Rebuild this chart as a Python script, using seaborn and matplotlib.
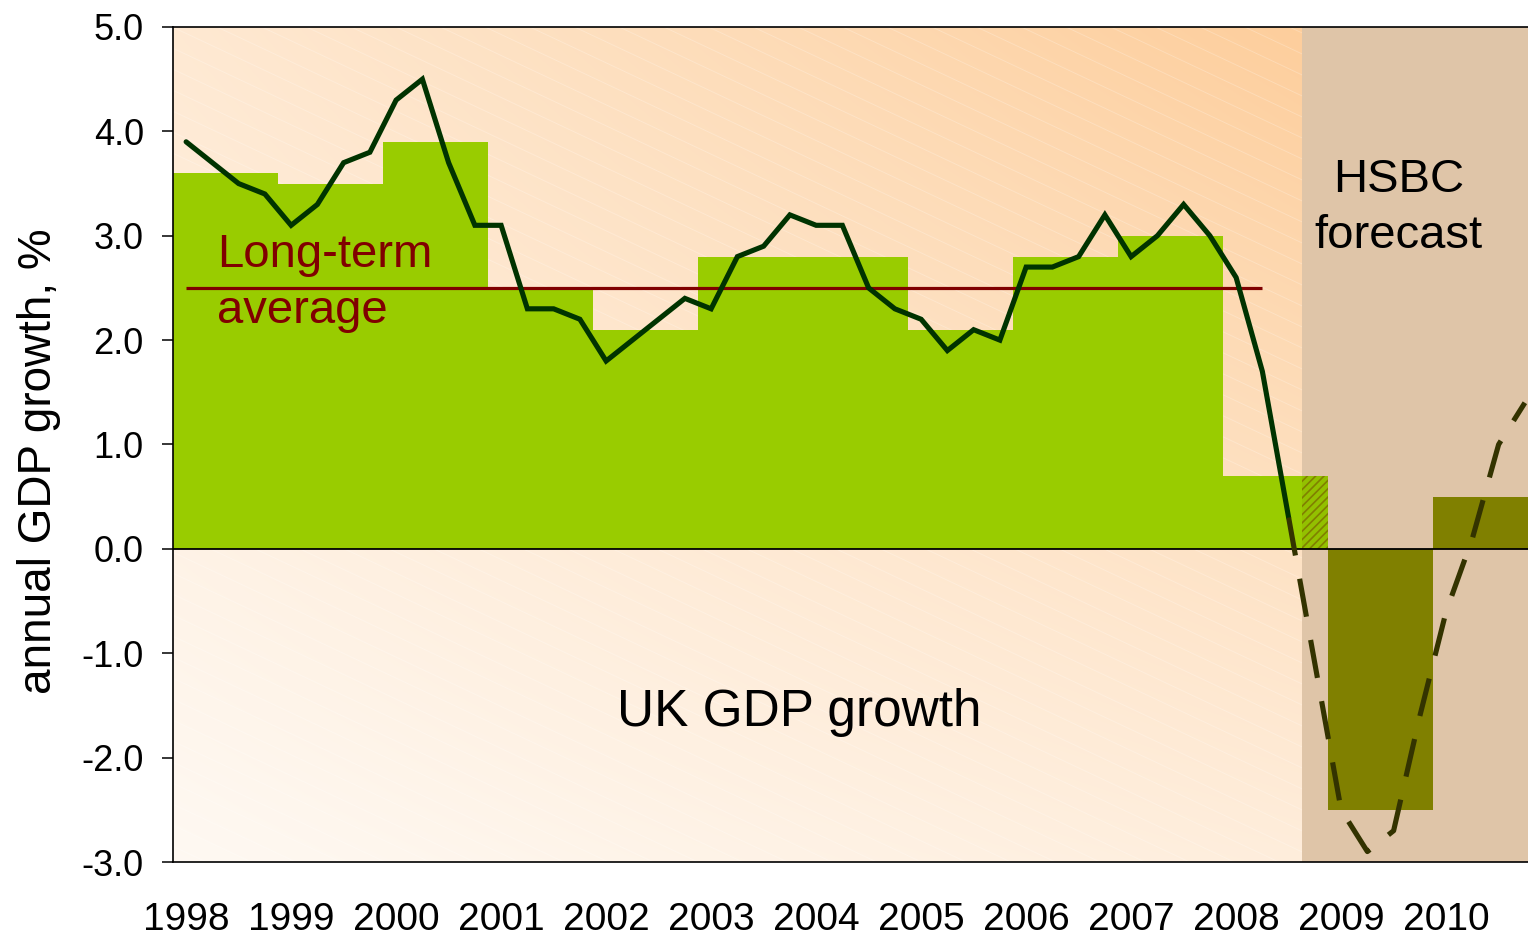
import numpy as np
import pandas as pd
import matplotlib
matplotlib.use("Agg")
import matplotlib.pyplot as plt
import seaborn as sns
from matplotlib.colors import to_rgb
from matplotlib.patches import Rectangle

# ---------------- data ----------------
years = list(range(1998, 2011))
annual_growth = [3.6, 3.5, 3.9, 2.5, 2.1, 2.8, 2.8, 2.1, 2.8, 3.0, 0.7, -2.5, 0.5]
bar_kind = ["actual"] * 11 + ["forecast"] * 2

actual_quarters = pd.period_range("1998Q1", "2008Q3", freq="Q")
quarterly_actual = [3.9, 3.7, 3.5, 3.4,
                    3.1, 3.3, 3.7, 3.8,
                    4.3, 4.5, 3.7, 3.1,
                    3.1, 2.3, 2.3, 2.2,
                    1.8, 2.0, 2.2, 2.4,
                    2.3, 2.8, 2.9, 3.2,
                    3.1, 3.1, 2.5, 2.3,
                    2.2, 1.9, 2.1, 2.0,
                    2.7, 2.7, 2.8, 3.2,
                    2.8, 3.0, 3.3, 3.0,
                    2.6, 1.7, 0.3]

forecast_quarters = pd.period_range("2008Q3", "2010Q4", freq="Q")
quarterly_forecast = [0.3, -1.1, -2.5, -2.9, -2.7, -1.6, -0.6, 0.1, 1.0, 1.4]

long_term_average = 2.5
average_span = ("1998Q1", "2008Q2")
y_ticks = [-3.0, -2.0, -1.0, 0.0, 1.0, 2.0, 3.0, 4.0, 5.0]


def qpos(p):
    p = pd.Period(p, freq="Q")
    return (p.year - years[0]) + (p.quarter - 1 + 0.5) / 4


# ---------------- style ----------------
sns.set_theme(style="white")
plt.rcParams["font.family"] = ["Liberation Sans", "DejaVu Sans"]

W_PX, H_PX = 1528, 936
fig = plt.figure(figsize=(W_PX / 100, H_PX / 100), dpi=100)
ax_l, ax_r, ax_t, ax_b = 173, 1528, 27, 862
ax = fig.add_axes([ax_l / W_PX, 1 - ax_b / H_PX, (ax_r - ax_l) / W_PX, (ax_b - ax_t) / H_PX])
ax.set_facecolor("none")

px_per_year = 105.0
xmax = (ax_r - ax_l) / px_per_year
ymin, ymax = -3.0, 5.0

# background gradient (white lower-left -> peach upper-right) with faint diagonal texture
Hh, Ww = ax_b - ax_t, ax_r - ax_l
xn = np.linspace(0, 1, Ww)[None, :]
yn = np.linspace(1, 0, Hh)[:, None]
t = np.clip(0.05 + 0.30 * xn + 0.35 * yn + 0.42 * xn * yn, 0, 1)
c0 = np.array(to_rgb("#fffbf7"))
c1 = np.array(to_rgb("#fdce9c"))
img = c0[None, None, :] * (1 - t[..., None]) + c1[None, None, :] * t[..., None]
pxg = np.arange(Ww)[None, :]
pyg = np.arange(Hh)[:, None]
d = np.mod(pyg - 0.47 * pxg, 21.0)
dist = np.minimum(d, 21.0 - d) * 0.9
a = np.clip(1 - dist / 0.9, 0, 1) * 0.22
img = img * (1 - a[..., None]) + a[..., None] * 1.0
ax.imshow(img, extent=[0, xmax, ymin, ymax], aspect="auto", zorder=0, interpolation="bilinear")

# forecast shading (starts between 2008Q3 and 2008Q4)
fx = (qpos("2008Q3") + qpos("2008Q4")) / 2
ax.axvspan(fx, xmax, color="#dfc5a8", zorder=1, lw=0)

# bars
bar_df = pd.DataFrame({"x": [y - years[0] + 0.5 for y in years],
                       "growth": annual_growth, "kind": bar_kind})
sns.barplot(data=bar_df, x="x", y="growth", hue="kind", native_scale=True,
            palette={"actual": "#99cc00", "forecast": "#808000"},
            width=1.0, dodge=False, legend=False, errorbar=None,
            saturation=1, linewidth=0, ax=ax, zorder=2)

# hatched part of the 2008 bar inside forecast zone
i2008 = years.index(2008)
plt.rcParams["hatch.linewidth"] = 1.2
ax.add_patch(Rectangle((fx, 0), (i2008 + 1) - fx, annual_growth[i2008],
                       facecolor="#93c000", edgecolor="#808000", hatch="////",
                       lw=0, zorder=2.5))

# zero line
ax.axhline(0, color="black", lw=1.3, zorder=3)

# long-term average
ax.hlines(long_term_average, qpos(average_span[0]), qpos(average_span[1]),
          color="#800000", lw=2.3, zorder=4)

# quarterly lines
act_df = pd.DataFrame({"x": [qpos(p) for p in actual_quarters], "g": quarterly_actual})
fc_df = pd.DataFrame({"x": [qpos(p) for p in forecast_quarters], "g": quarterly_forecast})
sns.lineplot(data=act_df, x="x", y="g", color="#003300", lw=3.7, ax=ax, zorder=5,
             solid_joinstyle="miter")
sns.lineplot(data=fc_df, x="x", y="g", color="#333300", lw=3.7, ax=ax, zorder=5,
             linestyle=(0, (7.5, 4.6)), dash_capstyle="butt")

# texts
ax.text(0.42, 2.70, "Long-term", color="#800000", fontsize=34, va="baseline", ha="left", zorder=6)
ax.text(0.42, 2.165, "average", color="#800000", fontsize=34, va="baseline", ha="left", zorder=6)
ax.text(5.96, -1.695, "UK GDP growth", color="black", fontsize=37, va="baseline", ha="center", zorder=6)
ax.text(11.67, 3.42, "HSBC", color="black", fontsize=34, va="baseline", ha="center", zorder=6)
ax.text(11.67, 2.88, "forecast", color="black", fontsize=34, va="baseline", ha="center", zorder=6)

# axes
ax.set_xlim(0, xmax)
ax.set_ylim(ymin, ymax)
ax.set_yticks(y_ticks)
ax.set_yticklabels([f"{v:.1f}" for v in y_ticks])
ax.set_xticks([y - years[0] + 0.125 for y in years])
ax.set_xticklabels([str(y) for y in years])
ax.tick_params(axis="y", which="both", left=True, length=8, width=1.1, color="black",
               direction="out", pad=13, labelsize=26, labelcolor="black")
ax.tick_params(axis="x", which="both", bottom=False, length=0, pad=29, labelsize=28,
               labelcolor="black")
ax.set_xlabel("")
ax.set_ylabel("annual GDP growth, %", fontsize=33, color="black")
ax.yaxis.set_label_coords(-0.083, 0.48)
for s in ["left", "top", "bottom"]:
    ax.spines[s].set_visible(True)
    ax.spines[s].set_color("black")
    ax.spines[s].set_linewidth(1.2)
    ax.spines[s].set_zorder(7)
ax.spines["right"].set_visible(False)
ax.grid(False)

fig.savefig("out.png", dpi=100, facecolor="white")
